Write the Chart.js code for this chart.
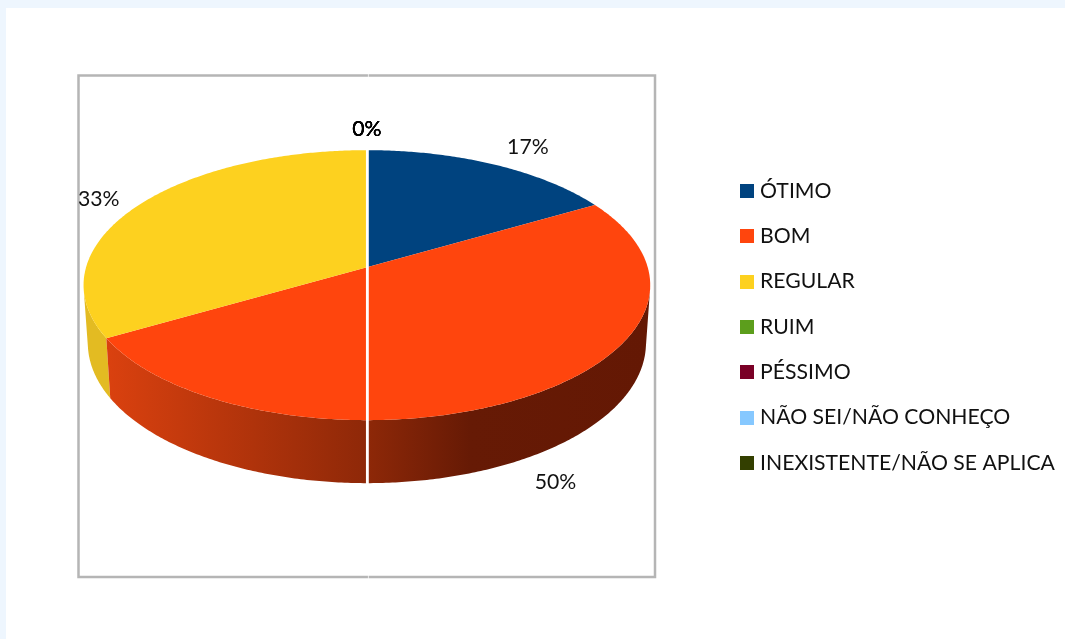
<!DOCTYPE html>
<html>
<head>
<meta charset="utf-8">
<title>Pizza 3D</title>
<style>
  html, body { margin: 0; height: 639px; overflow: hidden; background: #fff; }
  body { box-shadow: inset 6px 8px 0 #eef6fe; }
  canvas { display: block; }
</style>
<script src="https://cdn.jsdelivr.net/npm/chart.js@4/dist/chart.umd.min.js"></script>
</head>
<body>
<canvas id="pizza" width="1065" height="639"></canvas>
<script>
// dados da pizza
const categorias = ['ÓTIMO', 'BOM', 'REGULAR', 'RUIM', 'PÉSSIMO', 'NÃO SEI/NÃO CONHEÇO', 'INEXISTENTE/NÃO SE APLICA'];
const respostas = [1, 3, 2, 0, 0, 0, 0];
const cores = ['#00437f', '#ff450d', '#fdd11f', '#5c9e1c', '#7a0026', '#86c8ff', '#333f00'];

const FONTE = 'Lato';
const TAM_FONTE = 21.2;

// perspectiva da tampa da pizza (o centro nao fica no meio da elipse)
const LARG = 280.8, ALT = 132.6, K = -0.1333;
const ELEVA = 61;            // quanto o centro sobe em relacao ao chartArea
const ENCOLHE = 0.985;       // a base fica um pouco menor
const ajusteRotulo = [[13, 1], [-7, -5], [2, 6], [0, -1]];

function ponto(hub, ang, r) {
  // ang: angulo do chart.js, -PI/2 = topo
  const u = r * Math.cos(ang), v = r * Math.sin(ang);
  const d = 1 + K * v;
  return { x: hub.x + LARG * u / d, y: hub.y + ALT * v / d, v: v };
}

function pontoBase(hub, ang) {
  const p = ponto(hub, ang, 1);
  return { x: hub.x + (p.x - hub.x) * ENCOLHE, y: p.y + 57 + 6 * p.v };
}

function passos(ini, fim) {
  const n = Math.max(2, Math.ceil((fim - ini) / 0.01));
  const lista = [];
  for (let i = 0; i <= n; i++) lista.push(ini + (fim - ini) * i / n);
  return lista;
}

// so os trechos da parede virados para a frente
function trechoFrontal(hub, angulos) {
  const frente = [];
  for (let n = 0; n < angulos.length - 1; n++) {
    const p1 = ponto(hub, angulos[n], 1), p2 = ponto(hub, angulos[n + 1], 1);
    const b1 = pontoBase(hub, angulos[n]);
    const cruz = (p2.x - p1.x) * (b1.y - p1.y) - (p2.y - p1.y) * (b1.x - p1.x);
    if (cruz < 0) {
      if (!frente.length) frente.push(angulos[n]);
      frente.push(angulos[n + 1]);
    }
  }
  return frente;
}

function corParede(ctx, i, hub) {
  const g = ctx.createLinearGradient(hub.x - 260, 0, hub.x + 283, 0);
  if (i === 1) {
    g.addColorStop(0, '#da410f');
    g.addColorStop(0.479, '#8e2808');
    g.addColorStop(0.67, '#661a05');
    g.addColorStop(1, '#641804');
  } else if (i === 2) {
    g.addColorStop(0, '#e3bb22');
    g.addColorStop(1, '#e3bb22');
  } else {
    g.addColorStop(0, '#002a50');
    g.addColorStop(1, '#002a50');
  }
  return g;
}

const pizza3d = {
  id: 'pizza3d',
  beforeDraw(chart) {
    const ctx = chart.ctx;
    ctx.save();
    ctx.strokeStyle = '#b5b5b5';
    ctx.lineWidth = 2.5;
    ctx.strokeRect(78.5, 75.5, 576.5, 501.5);
    ctx.restore();
  },
  // desenha no lugar do arco normal, usando os angulos calculados pelo chart.js
  beforeDatasetsDraw(chart) {
    const ctx = chart.ctx;
    const arcos = chart.getDatasetMeta(0).data;
    const hub = { x: arcos[0].x, y: arcos[0].y - ELEVA };
    ctx.save();

    // parede lateral
    [0, 2, 1].forEach(i => {
      const a = arcos[i];
      const angulos = trechoFrontal(hub, passos(a.startAngle, a.endAngle));
      if (!angulos.length) return;
      ctx.beginPath();
      angulos.forEach((ang, n) => {
        const p = ponto(hub, ang, 1);
        n ? ctx.lineTo(p.x, p.y) : ctx.moveTo(p.x, p.y);
      });
      angulos.slice().reverse().forEach(ang => {
        const p = pontoBase(hub, ang);
        ctx.lineTo(p.x, p.y);
      });
      ctx.closePath();
      ctx.fillStyle = corParede(ctx, i, hub);
      ctx.fill();
    });

    // tampa
    arcos.forEach((a, i) => {
      if (a.endAngle - a.startAngle <= 0) return;
      ctx.beginPath();
      ctx.moveTo(hub.x, hub.y);
      passos(a.startAngle, a.endAngle).forEach(ang => {
        const p = ponto(hub, ang, 1);
        ctx.lineTo(p.x, p.y);
      });
      ctx.closePath();
      ctx.fillStyle = cores[i];
      ctx.fill();
    });

    // linha branca vertical
    ctx.strokeStyle = '#fff';
    ctx.lineWidth = 2.5;
    ctx.beginPath();
    ctx.moveTo(hub.x + 0.3, 77);
    ctx.lineTo(hub.x + 0.3, 575);
    ctx.stroke();
    ctx.strokeStyle = 'rgba(255,255,255,0.7)';
    ctx.lineWidth = 1;
    ctx.beginPath();
    ctx.moveTo(hub.x + 1.5, 74);
    ctx.lineTo(hub.x + 1.5, 579);
    ctx.stroke();

    // rotulos
    const total = respostas.reduce((s, n) => s + n, 0);
    ctx.font = TAM_FONTE + 'px ' + FONTE;
    ctx.textAlign = 'center';
    ctx.textBaseline = 'middle';
    arcos.forEach((a, i) => {
      const meio = (a.startAngle + a.endAngle) / 2;
      const p = ponto(hub, meio, 1.2);
      const aj = ajusteRotulo[Math.min(i, 3)];
      const desce = p.v > 0 ? 60 : 0;
      ctx.fillStyle = respostas[i] ? '#111' : '#000';
      ctx.fillText(Math.round(respostas[i] / total * 100) + '%', p.x + aj[0], p.y + desce + aj[1]);
    });
    ctx.restore();
    return false;
  }
};

// quadradinho da legenda
function quadrado(cor) {
  const c = document.createElement('canvas');
  c.width = 14;
  c.height = 14;
  const g = c.getContext('2d');
  g.fillStyle = cor;
  g.fillRect(0, 0, 14, 14);
  return c;
}

new Chart(document.getElementById('pizza'), {
  type: 'pie',
  data: {
    labels: categorias,
    datasets: [{ data: respostas, backgroundColor: cores, borderWidth: 0 }]
  },
  options: {
    responsive: false,
    animation: false,
    layout: { padding: { left: 13.8, right: 0.1, top: 156.3, bottom: 139 } },
    plugins: {
      tooltip: { enabled: false },
      legend: {
        position: 'right',
        align: 'start',
        labels: {
          usePointStyle: true,
          boxWidth: 5.4,
          padding: 24.1,
          color: '#111',
          font: { family: FONTE, size: TAM_FONTE },
          generateLabels: () => categorias.map((nome, i) => ({
            text: nome,
            pointStyle: quadrado(cores[i]),
            fontColor: '#111',
            index: i
          }))
        }
      }
    }
  },
  plugins: [pizza3d]
});
</script>
</body>
</html>
